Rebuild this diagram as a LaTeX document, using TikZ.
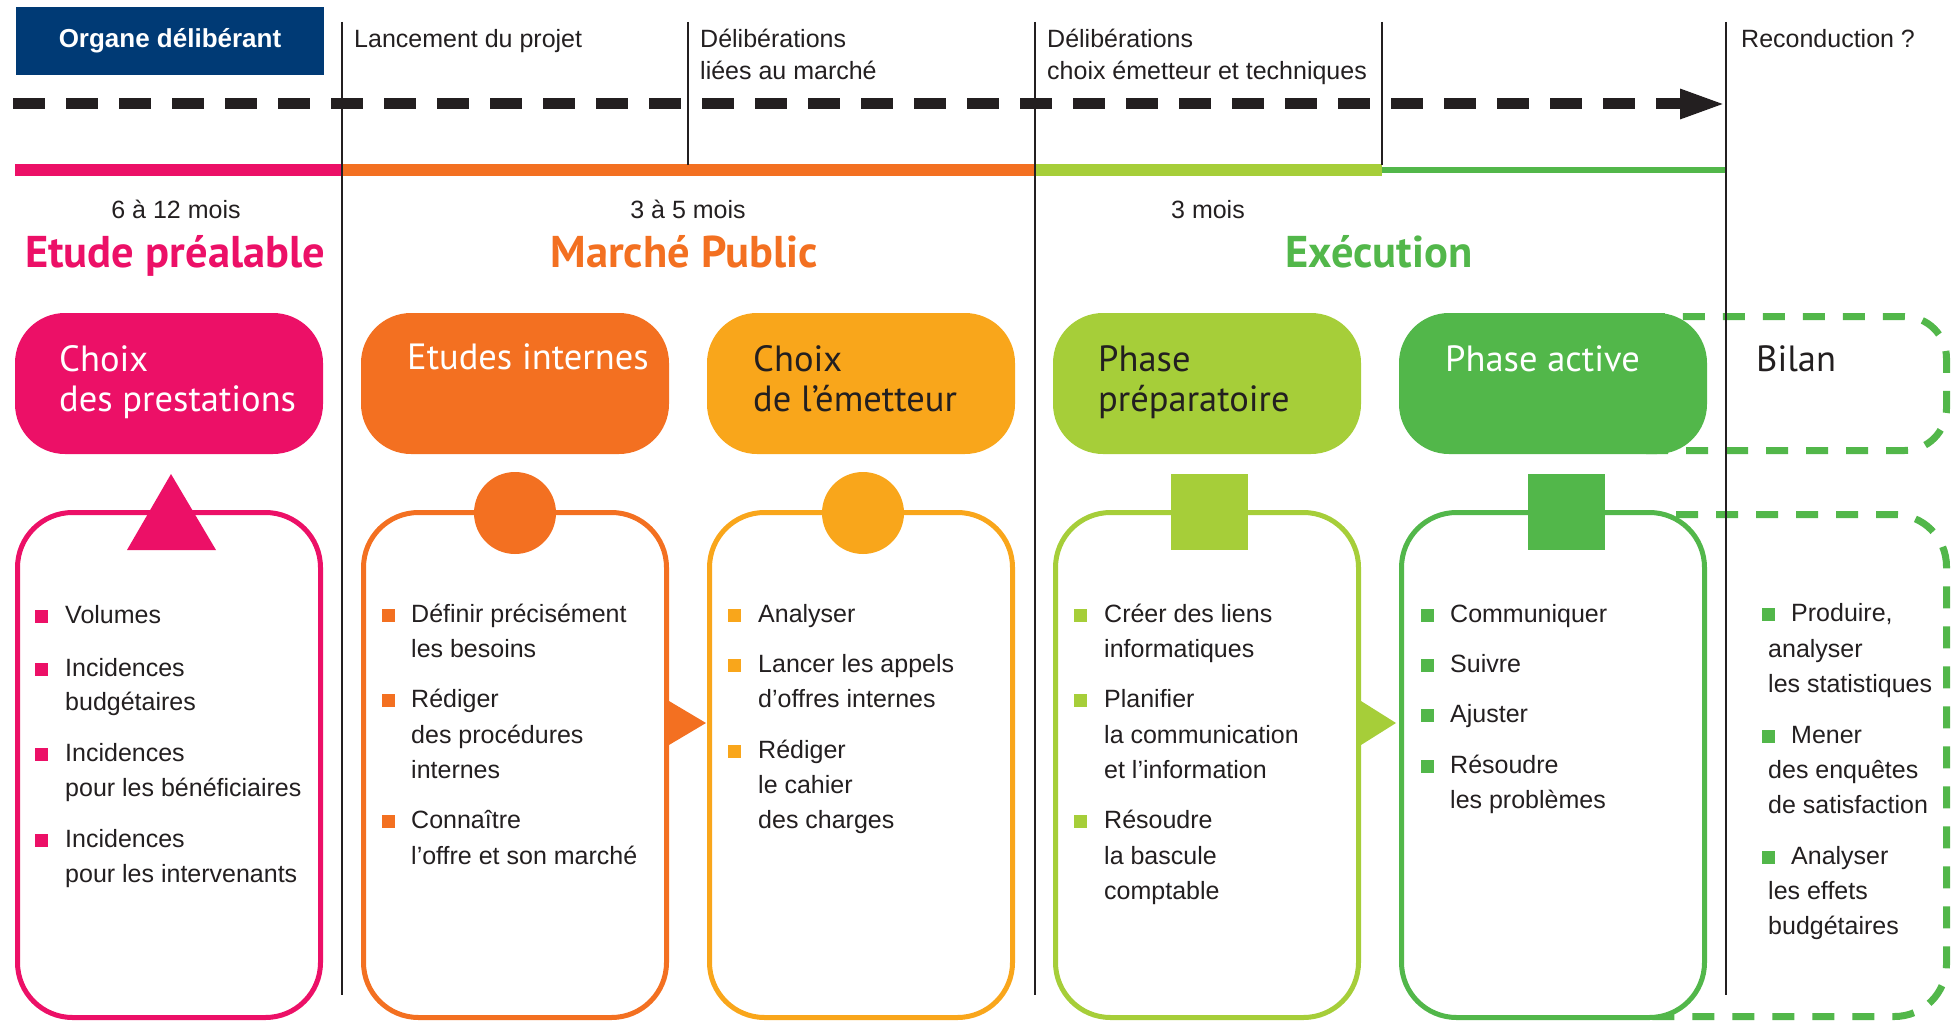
\documentclass[tikz,border=0pt]{standalone}
\usepackage{fontspec}
\setmainfont{Liberation Sans}
\newfontfamily\hfont{PT Sans}
\usetikzlibrary{arrows.meta}
\definecolor{cpink}{RGB}{236,16,103}
\definecolor{corange}{RGB}{243,112,33}
\definecolor{camber}{RGB}{249,166,27}
\definecolor{clime}{RGB}{166,206,57}
\definecolor{cgreen}{RGB}{82,183,74}
\definecolor{cnavy}{RGB}{0,58,117}
\definecolor{tdark}{RGB}{35,31,32}
\newcommand\mylist[6]{%
 \foreach \y/\b/\t [count=\i] in {#5}{%
   \ifnum\b=1
     \fill[#1] (#2-6.5,\y-5.5) rectangle +(13,13);
     \node[body] (#6\i) at (#3,\y) {\t};
   \else
     \node[body] (#6\i) at (#4,\y) {\t};
   \fi
 }}
\begin{document}
\begin{tikzpicture}[x=1pt,y=-1pt,
  topbox/.style={rounded corners=50pt, minimum width=308pt, minimum height=141pt, inner sep=0pt, draw=none},
  botbox/.style={rounded corners=55pt, minimum width=303pt, minimum height=505pt, line width=5pt, fill=white, inner sep=0pt},
  body/.style={anchor=mid west, inner sep=0pt, yshift=-6pt, text=tdark, font=\fontsize{25}{30}\selectfont},
  toplab/.style={anchor=mid west, inner sep=0pt, yshift=-6pt, text=tdark, font=\fontsize{25}{30}\selectfont},
  dur/.style={anchor=mid, inner sep=0pt, yshift=-6pt, text=tdark, font=\fontsize{25}{30}\selectfont},
  btitle/.style={anchor=mid west, inner sep=0pt, yshift=-8pt, text=white, font=\hfont\fontsize{36.5}{44}\selectfont},
  sectitle/.style={anchor=mid, inner sep=0pt, yshift=-10pt, font=\hfont\bfseries\fontsize{44.5}{52}\selectfont},
  vline/.style={line width=2.5pt, draw=tdark},
  bilanbox/.style={draw=cgreen, line width=7pt, dash pattern=on 22pt off 18pt}
]
\useasboundingbox (0,0) rectangle (1957,1022);

% header
\fill[cnavy] (16,7) rectangle (324,75);
\node[inner sep=0pt, anchor=mid, yshift=-6pt, text=white, font=\bfseries\fontsize{26}{30}\selectfont] (org) at (170,39) {Organe délibérant};
\node[toplab] (l1) at (354,39) {Lancement du projet};
\node[toplab] (l2a) at (700,39) {Délibérations};
\node[toplab] (l2b) at (700,71) {liées au marché};
\node[toplab] (l3a) at (1047,39) {Délibérations};
\node[toplab] (l3b) at (1047,71) {choix émetteur et techniques};
\node[toplab] (l4) at (1741,39) {Reconduction ?};

% dashed arrow
\coordinate (as) at (13,104);
\coordinate (ae) at (1726,104);
\draw[line width=11pt, tdark, dash pattern=on 32pt off 21pt, -{Triangle[length=46pt,width=27pt]}] (as) -- (ae);

% colour bar
\fill[cpink] (15,164) rectangle (342,176);
\fill[corange] (342,164) rectangle (1035,176);
\fill[clime] (1035,164) rectangle (1382,176);
\fill[cgreen] (1382,167) rectangle (1726,173);

% durations and section titles
\node[dur] (d1) at (176,210) {6 à 12 mois};
\node[dur] (d2) at (688,210) {3 à 5 mois};
\node[dur] (d3) at (1208,210) {3 mois};
\node[sectitle, text=cpink] (s1) at (175,255) {Etude préalable};
\node[sectitle, text=corange] (s2) at (684,255) {Marché Public};
\node[sectitle, text=cgreen] (s3) at (1379,255) {Exécution};

% Bilan dashed boxes
\draw[bilanbox, rounded corners=42pt] (1600,316.5) rectangle (1946.5,450.5);
\draw[bilanbox, rounded corners=52pt] (1600,514.5) rectangle (1946.5,1016.5);
\node[anchor=mid west, inner sep=0pt, yshift=-8pt, text=tdark, font=\hfont\fontsize{36.5}{44}\selectfont] (bil) at (1756,361) {Bilan};

% top boxes
\node[topbox, fill=cpink] (t1) at (169,383.5) {};
\node[topbox, fill=corange] (t2) at (515,383.5) {};
\node[topbox, fill=camber] (t3) at (861,383.5) {};
\node[topbox, fill=clime] (t4) at (1207,383.5) {};
\node[topbox, fill=cgreen] (t5) at (1553,383.5) {};
\node[btitle] (t1a) at (59,361) {Choix};
\node[btitle] (t1b) at (59,401) {des prestations};
\node[btitle] (t2a) at (407,359) {Etudes internes};
\node[btitle, text=tdark] (t3a) at (753,361) {Choix};
\node[btitle, text=tdark] (t3b) at (753,401) {de l’émetteur};
\node[btitle, text=tdark] (t4a) at (1098,361) {Phase};
\node[btitle, text=tdark] (t4b) at (1098,401) {préparatoire};
\node[btitle] (t5a) at (1445,361) {Phase active};

% bottom boxes
\node[botbox, draw=cpink] (b1) at (169,765) {};
\node[botbox, draw=corange] (b2) at (515,765) {};
\node[botbox, draw=camber] (b3) at (861,765) {};
\node[botbox, draw=clime] (b4) at (1207,765) {};
\node[botbox, draw=cgreen] (b5) at (1553,765) {};

% symbols
\fill[cpink] (171,474) -- (216,550) -- (127,550) -- cycle;
\fill[corange] (515,513) circle (41);
\fill[camber] (863,513) circle (41);
\fill[clime] (1171,474) rectangle (1248,550);
\fill[cgreen] (1528,474) rectangle (1605,550);

% arrows between boxes
\fill[corange] (b2.east |- 0,701) -- (706,723) -- (b2.east |- 0,745) -- cycle;
\fill[clime] (b4.east |- 0,701) -- (1396,723) -- (b4.east |- 0,745) -- cycle;

% lists
\mylist{cpink}{41}{65}{65}{615/1/Volumes, 668/1/Incidences, 702/0/budgétaires, 753/1/Incidences, 788/0/pour les bénéficiaires, 839/1/Incidences, 874/0/pour les intervenants}{pa}
\mylist{corange}{388}{411}{411}{614/1/Définir précisément, 649/0/les besoins, 699/1/Rédiger, 735/0/des procédures, 770/0/internes, 820/1/Connaître, 856/0/l’offre et son marché}{pb}
\mylist{camber}{734}{758}{758}{614/1/Analyser, 664/1/Lancer les appels, 699/0/d’offres internes, 750/1/Rédiger, 785/0/le cahier, 820/0/des charges}{pc}
\mylist{clime}{1080}{1104}{1104}{614/1/Créer des liens, 649/0/informatiques, 699/1/Planifier, 735/0/la communication, 770/0/et l’information, 820/1/Résoudre, 856/0/la bascule, 891/0/comptable}{pd}
\mylist{cgreen}{1427}{1450}{1450}{614/1/Communiquer, 664/1/Suivre, 714/1/Ajuster, 765/1/Résoudre, 800/0/les problèmes}{pe}
\mylist{cgreen}{1768}{1791}{1768}{613/1/{Produire,}, 649/0/analyser, 684/0/les statistiques, 735/1/Mener, 770/0/des enquêtes, 805/0/de satisfaction, 856/1/Analyser, 891/0/les effets, 926/0/budgétaires}{pf}

% vertical lines
\coordinate (v1t) at (342,22); \coordinate (v1b) at (342,995);
\coordinate (v2t) at (688,22); \coordinate (v2b) at (688,165);
\coordinate (v3t) at (1035,22); \coordinate (v3b) at (1035,995);
\coordinate (v4t) at (1382,22); \coordinate (v4b) at (1382,165);
\coordinate (v5t) at (1726,22); \coordinate (v5b) at (1726,995);
\draw[vline] (v1t) -- (v1b);
\draw[vline] (v2t) -- (v2b);
\draw[vline] (v3t) -- (v3b);
\draw[vline] (v4t) -- (v4b);
\draw[vline] (v5t) -- (v5b);
\end{tikzpicture}
\end{document}
